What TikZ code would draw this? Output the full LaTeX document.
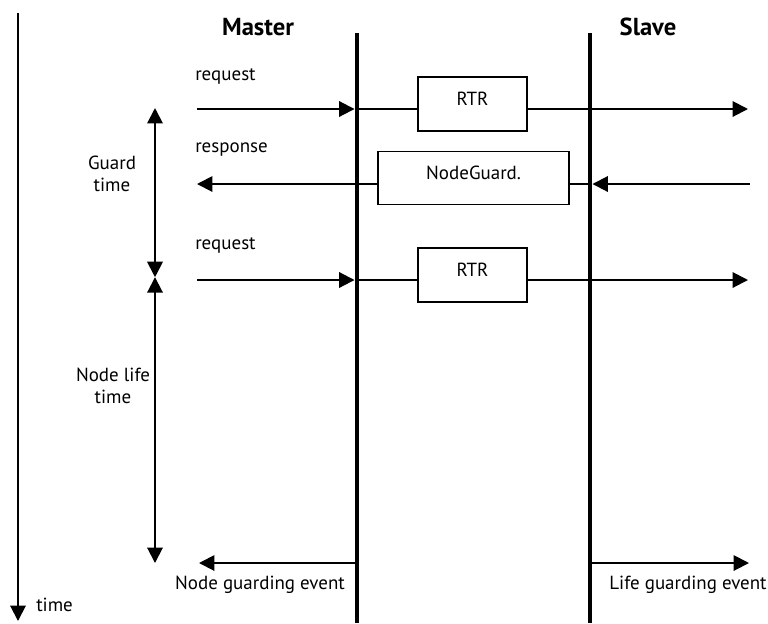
\documentclass[tikz,border=0pt]{standalone}
\usepackage{fontspec}
\setmainfont{PT Sans}
\usetikzlibrary{arrows.meta,positioning}
\begin{document}
\begin{tikzpicture}[
  msg/.style={line width=1.4pt,-{Triangle[length=11pt,width=11pt]}},
  span/.style={line width=1.4pt,{Triangle[length=11pt,width=11pt]}-{Triangle[length=11pt,width=11pt]}},
  wire/.style={line width=1.4pt},
  lifeline/.style={line width=3.5pt},
  msgbox/.style={draw,line width=1.4pt,minimum width=2.725cm,minimum height=1.35cm,
    text height=0.32cm,text depth=0.25cm,font=\fontsize{13.5}{15}\selectfont},
  lbl/.style={font=\fontsize{13.5}{16}\selectfont,inner sep=0pt},
  head/.style={font=\bfseries\fontsize{17.5}{20}\selectfont,inner sep=0pt}]
\useasboundingbox (0,0) rectangle (19.2,-15.575);
\coordinate (ttop) at (0.45,-0.325);
\coordinate (tbot) at (0.45,-15.525);
\coordinate (mtop) at (8.925,-0.825);
\coordinate (mbot) at (8.925,-15.575);
\coordinate (stop) at (14.75,-0.825);
\coordinate (sbot) at (14.75,-15.575);
\node[head] (master) at (6.45,-0.675) {Master};
\node[head] (slave) at (16.2,-0.675) {Slave};
\node[lbl,anchor=west] (time) at (0.9,-15.125) {time};
\node[msgbox] (rtr1) at (11.8125,-2.6) {RTR};
\node[msgbox,minimum width=4.775cm,minimum height=1.325cm] (ng) at (11.84,-4.45) {NodeGuard.};
\node[msgbox] (rtr2) at (11.8125,-6.875) {RTR};
\node[lbl,anchor=west] (req1) at (4.875,-1.9) {request};
\node[lbl,anchor=west] (resp) at (4.875,-3.75) {response};
\node[lbl,anchor=west] (req2) at (4.875,-6.125) {request};
\node[lbl,align=center] (guard) at (2.8,-4.35) {Guard\\time};
\node[lbl,align=center] (nlt) at (2.825,-9.65) {Node life\\time};
\node[lbl] (nge) at (6.5,-14.625) {Node guarding event};
\node[lbl] (lge) at (17.2,-14.625) {Life guarding event};
\coordinate (r1a) at (4.925,-2.725);
\coordinate (r1b) at (18.7,-2.725);
\coordinate (rsa) at (18.75,-4.6);
\coordinate (rsb) at (4.925,-4.6);
\coordinate (r2a) at (4.925,-7);
\coordinate (r2b) at (18.7,-7);
\coordinate (g1) at (3.875,-2.7);
\coordinate (g2) at (3.875,-6.93);
\coordinate (g3) at (3.875,-14.075);
\coordinate (nga) at (4.975,-14.075);
\coordinate (lga) at (18.725,-14.075);
\draw[msg,shorten >=1.75pt] (r1a) -- (r1a -| mtop);
\draw[wire] (r1a -| mtop) -- (rtr1.west |- r1a);
\draw[msg] (rtr1.east |- r1a) -- (r1b);
\draw[msg,shorten >=1.75pt] (rsa) -- (rsa -| stop);
\draw[wire] (rsa -| stop) -- (ng.east |- rsa);
\draw[msg] (ng.west |- rsa) -- (rsb);
\draw[msg,shorten >=1.75pt] (r2a) -- (r2a -| mtop);
\draw[wire] (r2a -| mtop) -- (rtr2.west |- r2a);
\draw[msg] (rtr2.east |- r2a) -- (r2b);
\draw[span] (g1) -- (g2);
\draw[span] (g2) -- (g3);
\draw[msg] (nga -| mtop) -- (nga);
\draw[msg] (lga -| stop) -- (lga);
\draw[msg] (ttop) -- (tbot);
\draw[lifeline] (mtop) -- (mbot);
\draw[lifeline] (stop) -- (sbot);
\end{tikzpicture}
\end{document}
